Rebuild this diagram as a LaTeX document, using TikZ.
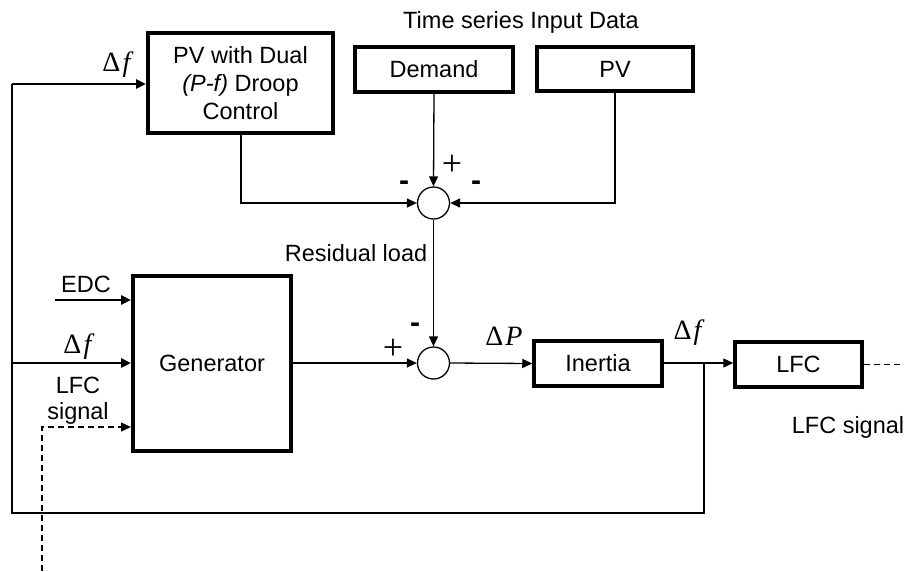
\documentclass[tikz,border=0pt]{standalone}
\usepackage{fontspec}
\setmainfont{Liberation Sans}
\newfontfamily\mfont{Liberation Serif}
\newcommand{\Dvar}[1]{{\fontsize{28}{28}\mfont Δ\kern2pt\textit{#1}}}
\newcommand{\plussign}{{\fontsize{36}{36}\mfont +}}
\newcommand{\minussign}{{\fontsize{30}{30}\selectfont\bfseries -}}
\usetikzlibrary{arrows.meta}
\begin{document}
\begin{tikzpicture}[x=1pt,y=-1pt,
  font=\fontsize{23.5}{28}\selectfont,
  blk/.style={draw, line width=3.5pt, inner sep=0pt, align=center},
  sumc/.style={draw, circle, line width=1.3pt, minimum size=32pt, inner sep=0pt},
  thin/.style={line width=1.3pt},
  thick2/.style={line width=2.6pt},
  arr/.style={-{Triangle[length=10pt,width=9pt]}},
  lbl/.style={inner sep=0pt},
  dsh/.style={line width=1.3pt, dash pattern=on 6pt off 4pt}
]
\useasboundingbox (0,0) rectangle (904,571);

% blocks
\node[blk, line width=4pt, minimum width=185pt, minimum height=100pt] (pvd) at (240.5,83) {PV with Dual\\\textit{(P-f)} Droop\\Control};
\node[blk, minimum width=158pt, minimum height=45pt] (dem) at (434,69.5) {Demand};
\node[blk, minimum width=156pt, minimum height=44pt] (pv) at (615,69) {PV};
\node[blk, line width=4pt, minimum width=158pt, minimum height=175pt] (gen) at (212,363.5) {Generator};
\node[blk, minimum width=128pt, minimum height=45pt] (ine) at (598,363.5) {Inertia};
\node[blk, minimum width=127pt, minimum height=45pt] (lfc) at (798.5,364.5) {LFC};
\node[sumc] (s1) at (433.5,203) {};
\node[sumc] (s2) at (433.5,363) {};

% coordinates
\coordinate (br) at (704,363);
\coordinate (bl) at (12,513);
\coordinate (br2) at (704,513);
\coordinate (edc) at (55,300);
\coordinate (lfcin) at (42,571);
\coordinate (dend) at (904,364.5);

% thin connectors
\draw[thin, arr] (pvd.south -| 241,0) |- (s1.west);
\draw[thin, arr] (dem.south) -- (s1.north);
\draw[thin, arr] (pv.south) |- (s1.east);
\draw[thin, arr] (s1.south) -- (s2.north);
\draw[thin, arr] (gen.east |- s2.west) -- (s2.west);
\draw[thin, arr] (s2.east) -- (ine.west);
\draw[thin, arr] (ine.east |- br) -- (lfc.west |- br);

% feedback loop
\draw[thick2] (br) -- (br2) -- (bl) -- (12,84);
\draw[thick2, arr] (12,84) -- (pvd.west |- 0,84);
\draw[thick2, arr] (12,363) -- (gen.west |- 0,363);
\draw[thick2, arr] (edc) -- (gen.west |- edc);

% dashed LFC signals
\draw[dsh] (lfc.east) -- (dend);
\draw[dsh, arr] (lfcin) |- (gen.west |- 0,427);

% labels
\node[lbl] (title) at (521,22) {Time series Input Data};
\node[lbl] (df1) at (118,65) {\Dvar{f}};
\node[lbl] (df2) at (79,347) {\Dvar{f}};
\node[lbl] (df3) at (689,333) {\Dvar{f}};
\node[lbl] (dP) at (504,336) {\Dvar{P}};
\node[lbl] (edcl) at (86,284) {EDC};
\node[lbl, align=center, font=\fontsize{23.5}{26}\selectfont] (lfcl) at (78,401) {LFC\\signal};
\node[lbl] (res) at (356,253) {Residual load};
\node[lbl] (lfcs) at (848,427) {LFC signal};
\node[lbl] (p1) at (452,165) {\plussign};
\node[lbl] (m1) at (404,186) {\minussign};
\node[lbl] (m2) at (476,186) {\minussign};
\node[lbl] (p2) at (393,349) {\plussign};
\node[lbl] (m3) at (415,328) {\minussign};
\end{tikzpicture}
\end{document}
